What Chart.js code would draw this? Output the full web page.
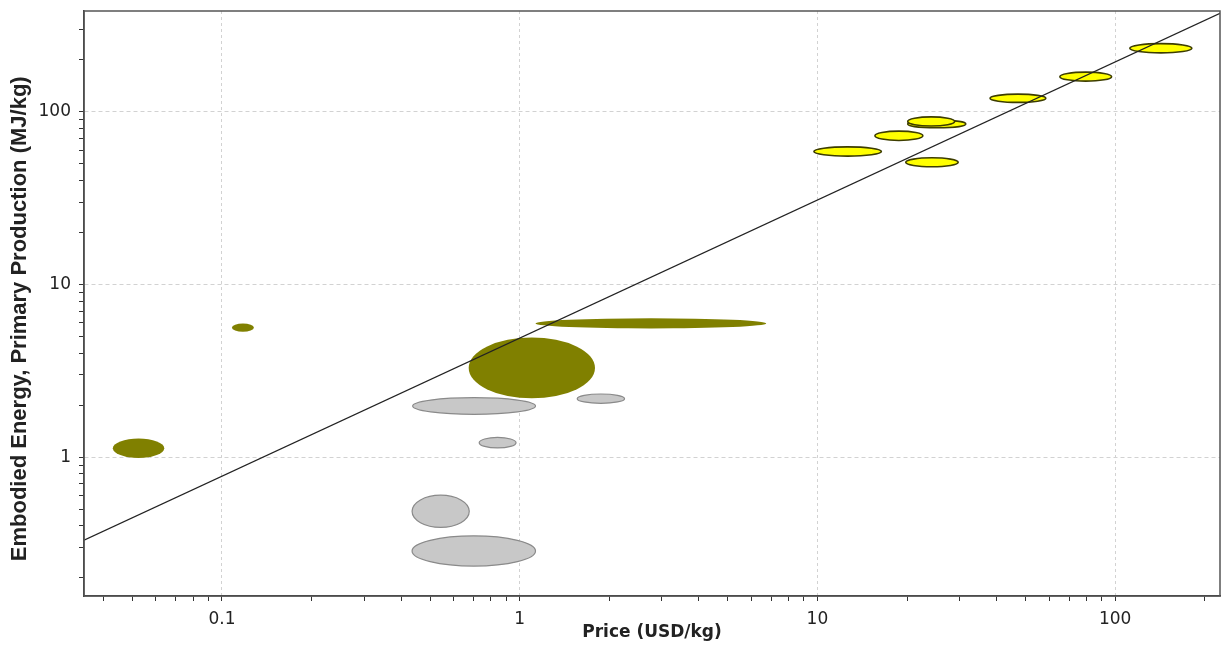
<!DOCTYPE html>
<html>
<head>
<meta charset="utf-8">
<script src="https://cdn.jsdelivr.net/npm/chart.js@4/dist/chart.umd.min.js"></script>
<style>
  html, body { margin: 0; padding: 0; background: #fff; }
  #wrap { width: 1223px; height: 650px; }
</style>
</head>
<body>
<div id="wrap"><canvas id="grafiek"></canvas></div>
<script>
// ranges per material: [price low, price high, energy low, energy high]
const olijfRanges = [
  [0.043, 0.064, 0.99, 1.28],
  [0.108, 0.128, 5.32, 5.94],
  [1.13, 6.73, 5.56, 6.36],
  [0.674, 1.79, 2.19, 4.93]
];
const grijsRanges = [
  [0.437, 1.13, 1.77, 2.21],
  [1.56, 2.25, 2.05, 2.32],
  [0.731, 0.972, 1.13, 1.30],
  [0.435, 0.677, 0.392, 0.602],
  [0.435, 1.13, 0.234, 0.350]
];
const geelRanges = [
  [9.73, 16.4, 55.3, 62.6],
  [15.6, 22.6, 68.2, 77.2],
  [20.1, 31.5, 80.7, 89.4],
  [20.1, 28.9, 82.6, 93.4],
  [19.8, 29.7, 48.0, 54.1],
  [38.0, 58.5, 113.2, 126.4],
  [65.2, 97.3, 150.4, 169.5],
  [112, 181, 219, 248]
];

const trendX = [0.0344, 225];
const trendY = [0.33, 371];

// as-labels
const xLabels = [0.1, 1, 10, 100];
const yLabels = [1, 10, 100];

const xMin = 0.0344, xMax = 225;
const yMin = 0.157, yMax = 383;

const lettertype = "'DejaVu Sans', Verdana, sans-serif";

// log ticks met minor streepjes
function logTicks(min, max) {
  const ticks = [];
  for (let e = -3; e <= 3; e++) {
    for (let m = 1; m <= 9; m++) {
      const v = parseFloat((m * Math.pow(10, e)).toPrecision(6));
      if (v >= min && v <= max) ticks.push({ value: v, major: m === 1 });
    }
  }
  return ticks;
}

// ellipsen tekenen via de schalen van de grafiek
const ellipsPlugin = {
  id: 'ellipsen',
  beforeDatasetsDraw(chart) {
    const { ctx, chartArea, scales: { x, y } } = chart;
    ctx.save();
    ctx.beginPath();
    ctx.rect(chartArea.left, chartArea.top, chartArea.right - chartArea.left, chartArea.bottom - chartArea.top);
    ctx.clip();

    function teken(lijst, vul, rand, dikte) {
      lijst.forEach(r => {
        const x1 = x.getPixelForValue(r[0]);
        const x2 = x.getPixelForValue(r[1]);
        const y1 = y.getPixelForValue(r[2]);
        const y2 = y.getPixelForValue(r[3]);
        ctx.beginPath();
        ctx.ellipse((x1 + x2) / 2, (y1 + y2) / 2, Math.abs(x2 - x1) / 2, Math.abs(y2 - y1) / 2, 0, 0, Math.PI * 2);
        ctx.fillStyle = vul;
        ctx.fill();
        if (rand) {
          ctx.lineWidth = dikte;
          ctx.strokeStyle = rand;
          ctx.stroke();
        }
      });
    }

    teken(olijfRanges, '#808000', null, 0);
    teken(grijsRanges, '#c8c8c8', '#8a8a8a', 1.2);
    teken(geelRanges, '#ffff00', '#3d3d00', 1.6);
    ctx.restore();
  },
  afterDraw(chart) {
    // kader rondom het plotgebied
    const { ctx, chartArea } = chart;
    ctx.save();
    ctx.strokeStyle = '#555';
    ctx.lineWidth = 1.5;
    ctx.strokeRect(chartArea.left, chartArea.top, chartArea.right - chartArea.left, chartArea.bottom - chartArea.top);
    ctx.restore();
  }
};

function gridKleur(c) {
  return c.tick && c.tick.major ? '#d2d2d2' : 'rgba(0,0,0,0)';
}

new Chart(document.getElementById('grafiek'), {
  type: 'line',
  data: {
    datasets: [{
      data: trendX.map((v, i) => ({ x: v, y: trendY[i] })),
      borderColor: '#222',
      borderWidth: 1.3,
      pointRadius: 0,
      fill: false
    }]
  },
  options: {
    responsive: true,
    maintainAspectRatio: false,
    animation: false,
    layout: { padding: { left: 0, top: 11, right: 3, bottom: 0 } },
    plugins: { legend: { display: false }, tooltip: { enabled: false } },
    scales: {
      x: {
        type: 'logarithmic',
        min: xMin,
        max: xMax,
        afterBuildTicks: s => { s.ticks = logTicks(xMin, xMax); },
        afterFit: s => { s.height = 54; s.paddingLeft = 0; s.paddingRight = 0; },
        grid: { color: gridKleur, tickColor: '#333', tickLength: 5, tickBorderDash: [] },
        border: { color: '#333', width: 1.5, dash: [3, 3] },
        ticks: {
          autoSkip: false,
          maxRotation: 0,
          padding: 8,
          color: '#222',
          font: { family: lettertype, size: 17 },
          callback: v => xLabels.includes(v) ? String(v) : ''
        },
        title: {
          display: true,
          text: 'Price (USD/kg)',
          color: '#222',
          font: { family: lettertype, size: 17, weight: 'bold' },
          padding: { top: 0, bottom: 7 }
        }
      },
      y: {
        type: 'logarithmic',
        min: yMin,
        max: yMax,
        afterBuildTicks: s => { s.ticks = logTicks(yMin, yMax); },
        afterFit: s => { s.width = 84; s.paddingTop = 0; s.paddingBottom = 0; },
        grid: { color: gridKleur, tickColor: '#333', tickLength: 5, tickBorderDash: [] },
        border: { color: '#333', width: 1.5, dash: [4, 3] },
        ticks: {
          autoSkip: false,
          padding: 8,
          color: '#222',
          font: { family: lettertype, size: 17 },
          callback: v => yLabels.includes(v) ? String(v) : ''
        },
        title: {
          display: true,
          text: 'Embodied Energy, Primary Production (MJ/kg)     ',
          color: '#222',
          font: { family: "'Liberation Sans', Arial, sans-serif", size: 22, weight: 'bold' },
          padding: { top: 7, bottom: 0 }
        }
      }
    }
  },
  plugins: [ellipsPlugin]
});
</script>
</body>
</html>
